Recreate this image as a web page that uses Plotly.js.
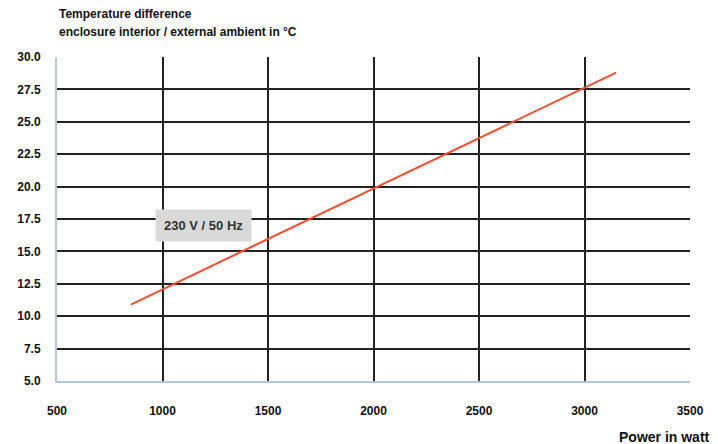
<!DOCTYPE html>
<html>
<head>
<meta charset="utf-8">
<script src="https://cdn.plot.ly/plotly-3.0.1.min.js"></script>
<style>
html,body{margin:0;padding:0;background:#fff;}
#chart{width:718px;height:444px;}
</style>
</head>
<body>
<div id="chart"></div>
<script>
// Data
const powerW = [850, 3150];
const tempDiff = [10.9, 28.8];
const seriesLabel = '230 V / 50 Hz';
const xTicks = [500, 1000, 1500, 2000, 2500, 3000, 3500];
const yTicks = [5.0, 7.5, 10.0, 12.5, 15.0, 17.5, 20.0, 22.5, 25.0, 27.5, 30.0];
const yTickLabels = yTicks.map(v => v.toFixed(1));
const titleLines = ['Temperature difference', 'enclosure interior / external ambient in °C'];
const xTitle = 'Power in watt';

const fam = 'Liberation Sans, Arial, sans-serif';
const tickFont = {family: fam, size: 12, color: '#111', weight: 'bold'};
const titleFont = {family: fam, size: 12, color: '#111', weight: 'bold'};

const trace = {
  x: powerW,
  y: tempDiff,
  type: 'scatter',
  mode: 'lines',
  line: {color: '#ff4b2b', width: 2},
  hoverinfo: 'skip',
  showlegend: false
};

const layout = {
  width: 718,
  height: 444,
  margin: {l: 57, r: 28, t: 57, b: 63},
  paper_bgcolor: '#fff',
  plot_bgcolor: '#fff',
  showlegend: false,
  xaxis: {
    range: [500, 3500],
    tickvals: xTicks,
    ticktext: xTicks.map(String),
    showgrid: true,
    gridcolor: '#222',
    gridwidth: 2,
    zeroline: false,
    showline: true,
    linecolor: '#b3c5d7',
    linewidth: 2,
    ticks: '',
    ticklabelstandoff: 18,
    tickfont: tickFont,
    fixedrange: true
  },
  yaxis: {
    range: [5, 30],
    tickvals: yTicks,
    ticktext: yTickLabels,
    showgrid: true,
    gridcolor: '#222',
    gridwidth: 2,
    zeroline: false,
    showline: true,
    linecolor: '#b3c5d7',
    linewidth: 2,
    ticks: '',
    ticklabelstandoff: 12,
    tickfont: tickFont,
    fixedrange: true
  },
  annotations: [
    {
      text: titleLines[0],
      x: 0, xref: 'paper', xanchor: 'left',
      y: 1, yref: 'paper', yanchor: 'middle', yshift: 43,
      showarrow: false,
      font: titleFont
    },
    {
      text: titleLines[1],
      x: 0, xref: 'paper', xanchor: 'left',
      y: 1, yref: 'paper', yanchor: 'middle', yshift: 25,
      showarrow: false,
      font: titleFont
    },
    {
      text: seriesLabel,
      x: 1192, y: 17.0,
      xref: 'x', yref: 'y',
      showarrow: false,
      bgcolor: '#d9d9d9',
      borderpad: 8,
      font: {family: fam, size: 13, color: '#333', weight: 'bold'}
    },
    {
      text: xTitle,
      x: 1, xref: 'paper', xanchor: 'right', xshift: 22,
      y: 0, yref: 'paper', yanchor: 'top', yshift: -46,
      showarrow: false,
      font: {family: fam, size: 14, color: '#111', weight: 'bold'}
    }
  ]
};

Plotly.newPlot('chart', [trace], layout, {staticPlot: true, displayModeBar: false});
</script>
</body>
</html>
